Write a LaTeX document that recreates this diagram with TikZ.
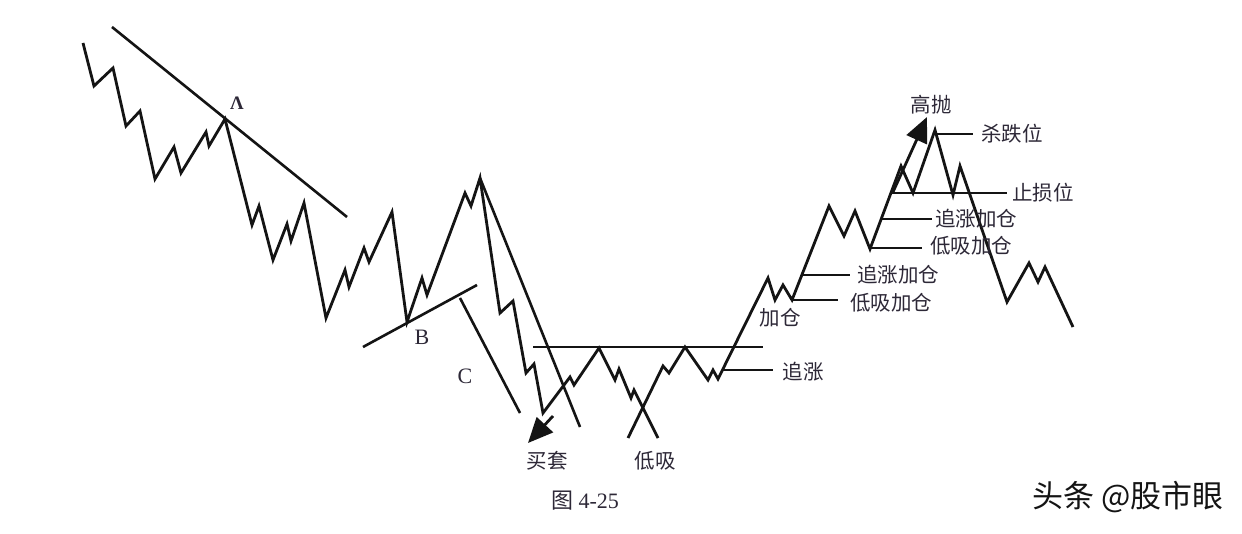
\documentclass[tikz,border=0pt]{standalone}
\usepackage{fontspec}
\setmainfont{Liberation Serif}
\newfontfamily\cjk{Noto Sans CJK SC}
\usetikzlibrary{arrows.meta}
\definecolor{ink}{RGB}{20,20,20}
\definecolor{txt}{RGB}{45,40,55}
\tikzset{
  price/.style={draw=ink, line width=2.8pt, line join=miter, miter limit=6},
  guide/.style={draw=ink, line width=2.6pt},
  bigarrow/.style={draw=ink, line width=2.8pt, -{Triangle[length=25pt,width=22pt]}},
  lbl/.style={text=txt, inner sep=0pt, font=\cjk\fontsize{20.5}{20.5}\selectfont},
  letter/.style={text=txt, inner sep=0pt, font=\fontsize{22}{22}\selectfont},
}
\begin{document}
\begin{tikzpicture}[x=1pt,y=-1pt]
\useasboundingbox[fill=white] (0,0) rectangle (1242,534);
% trend lines
\coordinate (a1) at (112,27); \coordinate (a2) at (347,217);
\coordinate (b1) at (363,347); \coordinate (b2) at (477,285);
\coordinate (c1) at (460,298); \coordinate (c2) at (520,413);
\draw[guide] (a1) -- (a2);
\draw[guide] (b1) -- (b2);
\draw[guide] (c1) -- (c2);
% price path: decline
\draw[price] (83,43) -- (94,86) -- (113,68) -- (126,126) -- (140,111) -- (155,179) -- (174,147) -- (181,173) -- (206,132) -- (209,146) -- (225,119) -- (252,225) -- (259,206) -- (273,260) -- (287,224) -- (291,241) -- (304,203) -- (326,318) -- (345,270) -- (349,287) -- (364,248) -- (369,262) -- (392,212) -- (407,322) -- (422,278) -- (427,295) -- (465,193) -- (471,206) -- (480,178)
  -- (500,313) -- (513,301) -- (526,373) -- (534,364) -- (543,413) -- (570,377) -- (574,385) -- (599,348) -- (615,380) -- (619,369) -- (631,398) -- (634,390) -- (658,438);
% straight line from the top
\coordinate (pk) at (480,178); \coordinate (pkend) at (580,427);
\draw[guide] (pk) -- (pkend);
% rise
\draw[price] (628,438) -- (663,366) -- (669,373) -- (685,347) -- (708,380) -- (713,370) -- (718,379) -- (768,278) -- (775,300) -- (783,285) -- (792,300) -- (829,206) -- (844,236) -- (855,211) -- (870,249) -- (901,166) -- (913,193) -- (935,130) -- (953,195) -- (960,166) -- (1007,302) -- (1029,263) -- (1038,282) -- (1045,267) -- (1073,327);
% horizontal guides
\coordinate (t1) at (533,347); \coordinate (t2) at (763,347);
\draw[guide] (t1) -- (t2);
\coordinate (z1) at (723,370); \coordinate (z2) at (773,370);
\draw[guide] (z1) -- (z2);
\coordinate (d1) at (792,300); \coordinate (d2) at (838,300);
\draw[guide] (d1) -- (d2);
\coordinate (e1) at (802,275); \coordinate (e2) at (850,275);
\draw[guide] (e1) -- (e2);
\coordinate (f1) at (870,248); \coordinate (f2) at (922,248);
\draw[guide] (f1) -- (f2);
\coordinate (g1) at (881,219); \coordinate (g2) at (932,219);
\draw[guide] (g1) -- (g2);
\coordinate (s1) at (891,193); \coordinate (s2) at (1007,193);
\draw[guide] (s1) -- (s2);
\coordinate (k1) at (936,134); \coordinate (k2) at (973,134);
\draw[guide] (k1) -- (k2);
% arrows
\coordinate (m1) at (553,416); \coordinate (m2) at (528,443);
\draw[bigarrow] (m1) -- (m2);
\coordinate (h1) at (893,192); \coordinate (h2) at (927,117);
\draw[bigarrow] (h1) -- (h2);
% labels
\node[letter, font=\bfseries\fontsize{19}{19}\selectfont] (la) at (237,103) {Λ};
\node[letter] (lb) at (422,337) {B};
\node[letter] (lc) at (465,376) {C};
\node[lbl] (n1) at (547,461) {买套};
\node[lbl] (n2) at (655,461) {低吸};
\node[lbl] (n3) at (803,372) {追涨};
\node[lbl] (n4) at (780,318) {加仓};
\node[lbl, anchor=west] (n5) at (850,303) {低吸加仓};
\node[lbl, anchor=west] (n6) at (857,275) {追涨加仓};
\node[lbl, anchor=west] (n7) at (930,246) {低吸加仓};
\node[lbl, anchor=west] (n8) at (935,219) {追涨加仓};
\node[lbl, anchor=west] (n9) at (1012,193) {止损位};
\node[lbl, anchor=west] (n10) at (981,134) {杀跌位};
\node[lbl] (n11) at (931,105) {高抛};
\node[text=txt, inner sep=0pt, font=\fontsize{22}{22}\selectfont] (fig) at (585,501) {{\cjk 图} 4-25};
\node[text=ink, inner sep=0pt, font=\cjk\fontsize{31}{31}\selectfont] (wm) at (1128,497) {头条 @股市眼};
\end{tikzpicture}
\end{document}
